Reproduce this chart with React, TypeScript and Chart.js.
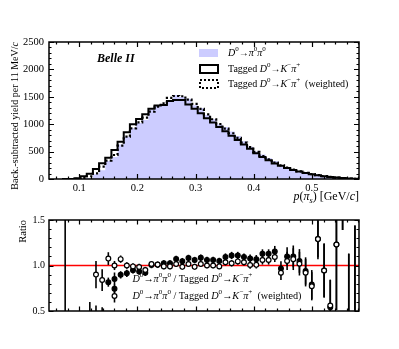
import React, { useEffect, useRef } from 'react';
import { Chart, registerables } from 'chart.js';
Chart.register(...registerables);

// ---------- data ----------
const pCenters = [
  0.0758, 0.0864, 0.0970, 0.1076, 0.1182, 0.1288, 0.1394, 0.1500, 0.1606, 0.1712,
  0.1818, 0.1924, 0.2030, 0.2136, 0.2242, 0.2348, 0.2454, 0.2560, 0.2666, 0.2772,
  0.2878, 0.2984, 0.3090, 0.3196, 0.3302, 0.3408, 0.3514, 0.3620, 0.3726, 0.3832,
  0.3938, 0.4044, 0.4150, 0.4256, 0.4362, 0.4468, 0.4574, 0.4680, 0.4786, 0.4892,
  0.4998, 0.5104, 0.5210, 0.5316, 0.5422, 0.5528, 0.5634, 0.5740,
];
const BIN_W = 0.0106;

const yieldPiPi = [
  0, 0, 2, 8, 20, 85, 160, 330, 400, 630, 775, 930, 1020, 1075, 1265, 1350, 1370, 1435,
  1535, 1495, 1465, 1345, 1295, 1170, 1090, 995, 950, 865, 785, 688, 588, 500, 448, 381,
  328, 231, 220, 182, 142, 104, 70, 89, 50, 21, 32, 27, 4, 1,
];
const yieldTagged = [
  0, 0, 12, 50, 97, 182, 286, 390, 530, 682, 852, 998, 1095, 1180, 1280, 1340, 1350, 1425,
  1440, 1440, 1360, 1280, 1200, 1110, 1030, 950, 870, 790, 710, 630, 550, 470, 400, 340,
  285, 240, 200, 165, 135, 110, 88, 68, 52, 38, 26, 16, 9, 4,
];
const yieldWeighted = [
  0, 0, 3, 15, 50, 104, 225, 335, 438, 608, 772, 925, 1035, 1120, 1230, 1320, 1380, 1480,
  1515, 1510, 1450, 1370, 1280, 1180, 1090, 1000, 920, 835, 750, 665, 580, 495, 420, 358,
  300, 250, 210, 172, 140, 114, 90, 70, 53, 38, 26, 16, 9, 4,
];

const ratioTagged = [
  0.2, null, null, null, 0.33, 0.42, 0.43, 0.817, 0.745, 0.897, 0.914, 0.948, 0.934, 0.92,
  1.005, 1.007, 1.024, 1.024, 1.072, 1.048, 1.083, 1.06, 1.085, 1.06, 1.06, 1.05, 1.093,
  1.11, 1.11, 1.093, 1.076, 1.07, 1.128, 1.128, 1.155, 0.966, 1.1, 1.1, 1.05, 0.94, 0.79,
  1.29, 0.945, 0.54, 1.23, 1.7, 0.42, 0.35,
];
const ratioTaggedErr = [
  2.0, null, null, null, 0.27, 0.14, 0.11, 0.05, 0.045, 0.04, 0.04, 0.035, 0.035, 0.035,
  0.035, 0.035, 0.035, 0.035, 0.035, 0.035, 0.035, 0.035, 0.035, 0.035, 0.035, 0.035, 0.04,
  0.04, 0.04, 0.04, 0.045, 0.045, 0.05, 0.05, 0.06, 0.08, 0.1, 0.12, 0.13, 0.15, 0.16,
  0.22, 0.3, 0.3, 0.72, 0.31, 0.71, 1.09,
];
const ratioWeighted = [
  null, null, null, null, null, 0.9, 0.84, 1.076, 1.0, 1.07, 1.0, 0.99, 0.983, 0.95,
  1.017, 1.01, 0.99, 0.99, 1.017, 0.985, 1.017, 0.985, 1.017, 1.0, 1.0, 0.99, 1.035,
  1.024, 1.045, 1.035, 1.005, 1.007, 1.06, 1.06, 1.093, 0.92, 1.05, 1.07, 1.02, 0.92, 0.772,
  1.29, 0.945, 0.56, 1.23, 1.7, 0.42, 0.35,
];
const ratioWeightedErr = [
  null, null, null, null, null, 0.15, 0.12, 0.07, 0.05, 0.04, 0.035, 0.035, 0.035, 0.035,
  0.03, 0.03, 0.03, 0.03, 0.03, 0.03, 0.03, 0.03, 0.03, 0.03, 0.03, 0.03, 0.035, 0.035,
  0.035, 0.035, 0.04, 0.04, 0.05, 0.05, 0.055, 0.08, 0.1, 0.12, 0.13, 0.15, 0.155, 0.2,
  0.29, 0.285, 0.72, 0.31, 0.71, 1.09,
];

const xMajorTicks = [0.1, 0.2, 0.3, 0.4, 0.5];
const yieldTicks = [0, 500, 1000, 1500, 2000, 2500];
const ratioTicks = [0.5, 1.0, 1.5];
const X_MIN = 0.048;
const X_MAX = 0.581;

const FILL_COLOR = '#ccccff';
const FONT = '"Liberation Serif", "Times New Roman", serif';
const BOT_TOP = 210; // page offset of the ratio canvas

// ---------- helpers ----------
type Seg = { t: string; it?: boolean; b?: boolean; sup?: boolean; sub?: boolean };
function segFont(s: Seg, size: number) {
  const sz = s.sup || s.sub ? size * 0.7 : size;
  return `${s.it ? 'italic ' : ''}${s.b ? 'bold ' : ''}${sz}px ${FONT}`;
}
function richWidth(ctx: CanvasRenderingContext2D, segs: Seg[], size: number) {
  let w = 0;
  for (const s of segs) {
    ctx.font = segFont(s, size);
    w += ctx.measureText(s.t).width;
  }
  return w;
}
function drawRich(ctx: CanvasRenderingContext2D, segs: Seg[], x: number, y: number, size: number, align: 'left' | 'right' | 'center') {
  const w = richWidth(ctx, segs, size);
  let cx = align === 'left' ? x : align === 'right' ? x - w : x - w / 2;
  ctx.textAlign = 'left';
  ctx.textBaseline = 'middle';
  ctx.fillStyle = '#000';
  for (const s of segs) {
    ctx.font = segFont(s, size);
    const dy = s.sup ? -size * 0.35 : s.sub ? size * 0.28 : 0;
    ctx.fillText(s.t, cx, y + dy);
    cx += ctx.measureText(s.t).width;
  }
}

const segPiPi: Seg[] = [
  { t: 'D', it: true }, { t: '0', sup: true }, { t: '→' }, { t: 'π', it: true }, { t: '0', sup: true },
  { t: 'π', it: true }, { t: '0', sup: true },
];
const segKPi: Seg[] = [
  { t: 'Tagged ' }, { t: 'D', it: true }, { t: '0', sup: true }, { t: '→' }, { t: 'K', it: true },
  { t: '−', sup: true }, { t: 'π', it: true }, { t: '+', sup: true },
];

function stepData(vals: number[]) {
  const n = vals.length;
  const pts: { x: number; y: number }[] = [{ x: pCenters[0] - BIN_W / 2, y: 0 }];
  vals.forEach((v, i) => pts.push({ x: pCenters[i] - BIN_W / 2, y: v }));
  pts.push({ x: pCenters[n - 1] + BIN_W / 2, y: vals[n - 1] });
  pts.push({ x: pCenters[n - 1] + BIN_W / 2, y: 0 });
  return pts;
}

function ratioData(vals: (number | null)[], errs: (number | null)[]) {
  const out: { x: number; y: number; e: number }[] = [];
  vals.forEach((v, i) => {
    if (v !== null) out.push({ x: pCenters[i], y: v, e: errs[i] ?? 0 });
  });
  return out;
}

function framePlugin(id: string, yMajor: number[], yMinorStep: number, yMin: number, yMax: number, majLen: number, minLen: number) {
  return {
    id,
    afterDatasetsDraw(chart: any) {
      const { ctx, chartArea: a } = chart;
      const xs = chart.scales.x;
      const ys = chart.scales.y;
      ctx.save();
      ctx.strokeStyle = '#000';
      ctx.lineWidth = 1.2;
      const xMinor: number[] = [];
      for (let v = 0.06; v < X_MAX; v += 0.02) xMinor.push(Math.round(v * 100) / 100);
      ctx.beginPath();
      for (const v of xMinor) {
        const isMaj = xMajorTicks.some((m) => Math.abs(m - v) < 1e-6);
        const len = isMaj ? majLen : minLen;
        const px = Math.round(xs.getPixelForValue(v)) + 0.5;
        ctx.moveTo(px, a.bottom);
        ctx.lineTo(px, a.bottom - len);
        ctx.moveTo(px, a.top);
        ctx.lineTo(px, a.top + len);
      }
      for (let v = yMin; v <= yMax + 1e-9; v += yMinorStep) {
        const isMaj = yMajor.some((m) => Math.abs(m - v) < 1e-6);
        const len = isMaj ? majLen : minLen;
        const py = Math.round(ys.getPixelForValue(v)) + 0.5;
        ctx.moveTo(a.left, py);
        ctx.lineTo(a.left + len, py);
        ctx.moveTo(a.right, py);
        ctx.lineTo(a.right - len, py);
      }
      ctx.stroke();
      ctx.lineWidth = 1.5;
      ctx.strokeRect(a.left, a.top, a.right - a.left, a.bottom - a.top);
      ctx.restore();
    },
  };
}

const topDecor = {
  id: 'topDecor',
  afterDraw(chart: any) {
    const { ctx, chartArea: a } = chart;
    ctx.save();
    ctx.save();
    ctx.translate(15, a.top);
    ctx.rotate(-Math.PI / 2);
    drawRich(ctx, [{ t: 'Back.-subtracted yield per 11 MeV/' }, { t: 'c', it: true }], 0, 0, 10, 'right');
    ctx.restore();
    drawRich(
      ctx,
      [{ t: 'p', it: true }, { t: '(' }, { t: 'π', it: true }, { t: 's', sub: true, it: true }, { t: ') [GeV/' }, { t: 'c', it: true }, { t: ']' }],
      a.right, 197, 12, 'right'
    );
    drawRich(ctx, [{ t: 'Belle II', it: true, b: true }], 97, 59, 12, 'left');
    ctx.fillStyle = FILL_COLOR;
    ctx.fillRect(199, 49, 19, 8);
    ctx.strokeStyle = '#000';
    ctx.lineWidth = 2;
    ctx.strokeRect(200, 65, 18, 8);
    ctx.setLineDash([2, 2]);
    ctx.strokeRect(200, 80, 18, 8);
    ctx.setLineDash([]);
    drawRich(ctx, segPiPi, 228, 53, 10, 'left');
    drawRich(ctx, segKPi, 228, 69, 10, 'left');
    drawRich(ctx, [...segKPi, { t: '  (weighted)' }], 228, 84, 10, 'left');
    ctx.restore();
  },
};

const ratioDecor = {
  id: 'ratioDecor',
  beforeDatasetsDraw(chart: any) {
    const { ctx, chartArea: a } = chart;
    const ys = chart.scales.y;
    ctx.save();
    ctx.beginPath();
    ctx.rect(a.left, a.top, a.right - a.left, a.bottom - a.top);
    ctx.clip();
    const y1 = ys.getPixelForValue(1.0);
    ctx.strokeStyle = '#ff0000';
    ctx.lineWidth = 1.5;
    ctx.beginPath();
    ctx.moveTo(a.left, y1);
    ctx.lineTo(a.right, y1);
    ctx.stroke();
    ctx.strokeStyle = '#000';
    ctx.lineWidth = 1.6;
    chart.data.datasets.forEach((ds: any, di: number) => {
      const meta = chart.getDatasetMeta(di);
      ds.data.forEach((p: any, i: number) => {
        const el = meta.data[i];
        if (!el) return;
        ctx.beginPath();
        ctx.moveTo(el.x, ys.getPixelForValue(p.y - p.e));
        ctx.lineTo(el.x, ys.getPixelForValue(p.y + p.e));
        ctx.stroke();
      });
    });
    ctx.restore();
  },
  afterDraw(chart: any) {
    const { ctx } = chart;
    ctx.save();
    ctx.save();
    ctx.translate(23, chart.chartArea.top);
    ctx.rotate(-Math.PI / 2);
    drawRich(ctx, [{ t: 'Ratio' }], 0, 0, 10.5, 'right');
    ctx.restore();
    const lx = 114.5;
    const rows = [279 - BOT_TOP, 296 - BOT_TOP];
    ctx.strokeStyle = '#000';
    rows.forEach((ry, i) => {
      ctx.lineWidth = 1.6;
      ctx.beginPath();
      ctx.moveTo(lx, ry - 6.5);
      ctx.lineTo(lx, ry + 6.5);
      ctx.stroke();
      ctx.beginPath();
      ctx.arc(lx, ry, 2.4, 0, Math.PI * 2);
      ctx.fillStyle = i === 0 ? '#000' : '#fff';
      ctx.fill();
      ctx.lineWidth = 1.2;
      ctx.stroke();
    });
    const seg1 = [...segPiPi, { t: ' / ' }, ...segKPi];
    drawRich(ctx, seg1, 132.5, rows[0], 10.2, 'left');
    drawRich(ctx, [...seg1, { t: '  (weighted)' }], 132.5, rows[1], 10.2, 'left');
    ctx.restore();
  },
};

export default function App() {
  const topRef = useRef<HTMLCanvasElement>(null);
  const botRef = useRef<HTMLCanvasElement>(null);

  useEffect(() => {
    const tickFont = { family: FONT, size: 10.5 };
    const top = new Chart(topRef.current!, {
      type: 'line',
      data: {
        datasets: [
          {
            label: 'weighted',
            data: stepData(yieldWeighted),
            stepped: 'before',
            borderColor: '#000',
            borderWidth: 2.2,
            borderDash: [2.2, 2.2],
            pointRadius: 0,
            fill: false,
            order: 1,
          },
          {
            label: 'tagged',
            data: stepData(yieldTagged),
            stepped: 'before',
            borderColor: '#000',
            borderWidth: 2,
            pointRadius: 0,
            fill: false,
            order: 2,
          },
          {
            label: 'pipi',
            data: stepData(yieldPiPi),
            stepped: 'before',
            borderWidth: 0,
            borderColor: 'rgba(0,0,0,0)',
            backgroundColor: FILL_COLOR,
            pointRadius: 0,
            fill: 'origin',
            order: 3,
          },
        ],
      },
      options: {
        animation: false,
        responsive: false,
        devicePixelRatio: 1,
        layout: { padding: { left: 0, right: 40, top: 42, bottom: 0 } },
        plugins: { legend: { display: false }, tooltip: { enabled: false } },
        scales: {
          x: {
            type: 'linear',
            min: X_MIN,
            max: X_MAX,
            grid: { display: false, drawTicks: false },
            border: { display: false },
            afterBuildTicks: (s: any) => { s.ticks = xMajorTicks.map((v) => ({ value: v })); },
            afterFit: (s: any) => { s.height = 31; },
            ticks: { color: '#000', font: tickFont, padding: 3, maxRotation: 0, callback: (v: any) => Number(v).toFixed(1) },
          },
          y: {
            min: 0,
            max: 2500,
            grid: { display: false, drawTicks: false },
            border: { display: false },
            afterBuildTicks: (s: any) => { s.ticks = yieldTicks.map((v) => ({ value: v })); },
            afterFit: (s: any) => { s.width = 49; },
            ticks: { color: '#000', font: tickFont, padding: 5, callback: (v: any) => String(v) },
          },
        },
      },
      plugins: [framePlugin('frameTop', yieldTicks, 100, 0, 2500, 5, 2.5), topDecor],
    });

    const bot = new Chart(botRef.current!, {
      type: 'scatter',
      data: {
        datasets: [
          {
            label: 'weighted',
            data: ratioData(ratioWeighted, ratioWeightedErr),
            pointRadius: 2.4,
            pointBackgroundColor: '#fff',
            pointBorderColor: '#000',
            pointBorderWidth: 1.2,
            order: 1,
          },
          {
            label: 'tagged',
            data: ratioData(ratioTagged, ratioTaggedErr),
            pointRadius: 2.4,
            pointBackgroundColor: '#000',
            pointBorderColor: '#000',
            pointBorderWidth: 1.2,
            order: 2,
          },
        ],
      },
      options: {
        animation: false,
        responsive: false,
        devicePixelRatio: 1,
        layout: { padding: { left: 0, right: 40, top: 4, bottom: 0 } },
        plugins: { legend: { display: false }, tooltip: { enabled: false } },
        scales: {
          x: {
            type: 'linear',
            min: X_MIN,
            max: X_MAX,
            grid: { display: false, drawTicks: false },
            border: { display: false },
            afterFit: (s: any) => { s.height = 38; },
            ticks: { display: false },
          },
          y: {
            min: 0.5,
            max: 1.5,
            grid: { display: false, drawTicks: false },
            border: { display: false },
            afterBuildTicks: (s: any) => { s.ticks = ratioTicks.map((v) => ({ value: v })); },
            afterFit: (s: any) => { s.width = 49; },
            ticks: { color: '#000', font: { family: FONT, size: 10 }, padding: 4, callback: (v: any) => Number(v).toFixed(1) },
          },
        },
      },
      plugins: [framePlugin('frameBot', ratioTicks, 0.1, 0.5, 1.5, 4.5, 2.5), ratioDecor],
    });

    return () => {
      top.destroy();
      bot.destroy();
    };
  }, []);

  return (
    <div style={{ position: 'absolute', left: 0, top: 0, width: 399, height: 349, background: '#fff' }}>
      <canvas ref={topRef} width={399} height={210} style={{ position: 'absolute', left: 0, top: 0, width: 399, height: 210 }} />
      <canvas ref={botRef} width={399} height={139} style={{ position: 'absolute', left: 0, top: BOT_TOP, width: 399, height: 139 }} />
    </div>
  );
}
